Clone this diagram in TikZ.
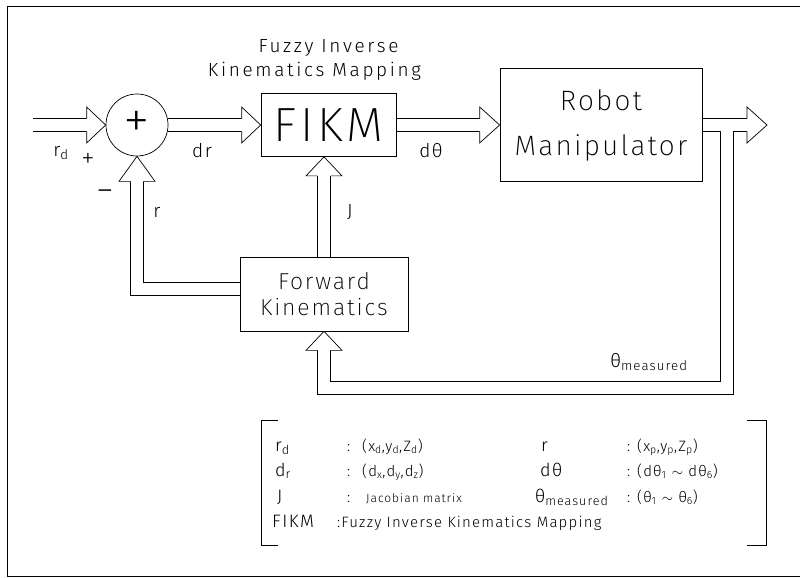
\documentclass[tikz,border=0pt]{standalone}
\usepackage{fontspec}
\setmainfont{Fira Sans Light}[LetterSpace=8]
\newfontfamily\thinfont{Fira Sans ExtraLight}[LetterSpace=8]
\usetikzlibrary{positioning,calc}

% open arrow head, tip at #2, turned by #3 degrees, length #1
\newcommand{\hollowhead}[3][19]{%
  \draw[headline,shift={(#2)},rotate=#3] (-#1,-6.5) -- (-#1,-18) -- (0,0) -- (-#1,18) -- (-#1,6.5);}
% two rails of a wide shaft
\newcommand{\hshaft}[2]{%
  \draw[rail] ([yshift=6.5pt]#1) -- ([yshift=6.5pt]#2);
  \draw[rail] ([yshift=-6.5pt]#1) -- ([yshift=-6.5pt]#2);}
\newcommand{\vshaft}[2]{%
  \draw[rail] ([xshift=6.5pt]#1) -- ([xshift=6.5pt]#2);
  \draw[rail] ([xshift=-6.5pt]#1) -- ([xshift=-6.5pt]#2);}

\begin{document}
\begin{tikzpicture}[x=1pt,y=-1pt,
 box/.style={draw,line width=.7pt,inner sep=0pt},
 rail/.style={line width=.7pt,line join=miter},
 headline/.style={line width=.7pt,fill=white,line join=miter},
 titletext/.style={inner sep=0pt,font=\fontsize{19}{21}\selectfont\addfontfeatures{LetterSpace=14}},
 lbl/.style={font=\fontsize{19}{21}\selectfont},
 keysym/.style={anchor=base west,inner sep=0pt,font=\fontsize{18}{20}\selectfont},
 keyval/.style={anchor=base west,inner sep=0pt,font=\fontsize{15}{17}\selectfont}]
\useasboundingbox (0,0) rectangle (803,578);
\draw[line width=.7pt] (800,6) -- (7,6) -- (7,576) -- (800,576);

% blocks
\node[box,circle,minimum size=62pt,font=\thinfont\fontsize{54}{54}\selectfont] (sum) at (137,125) {+};
\node[box,minimum width=135pt,minimum height=63pt,font=\thinfont\fontsize{48}{48}\selectfont] (fikm) at (328.5,125) {FIKM};
\node[box,minimum width=202pt,minimum height=113pt,align=center,font=\thinfont\fontsize{28}{33}\selectfont] (robot) at (601,125) {Robot\\[12pt]Manipulator};
\node[box,minimum width=168pt,minimum height=74pt,align=center,font=\thinfont\fontsize{23}{26}\selectfont] (fk) at (324,294) {Forward\\Kinematics};
\node[titletext,above=13pt of fikm,xshift=-14pt] (title2) {Kinematics Mapping};
\node[titletext,above=10pt of fikm.north,yshift=27pt] (title1) {Fuzzy Inverse};

% free ends, head bases and corners
\coordinate (in) at (33,125);
\coordinate (out) at (767,125);
\coordinate (ret) at (726.5,387.5);
\coordinate (jtip) at (fk.north |- fikm.south);
\coordinate (sumin) at ([xshift=-19pt]sum.west);
\coordinate (fikmin) at ([xshift=-19pt]fikm.west);
\coordinate (robotin) at ([xshift=-20pt]robot.west);
\coordinate (outbase) at ([xshift=-20pt]out);
\coordinate (sumbase) at ([yshift=-25pt]sum.south);
\coordinate (fkbase) at ([yshift=-19pt]fk.south);
\coordinate (jbase) at ([yshift=-19pt]jtip);
\coordinate (rstart) at ([yshift=5.5pt]fk.west);

% forward path
\hshaft{in}{sumin}
\hollowhead{sum.west}{0}
\hshaft{sum.east}{fikmin}
\hollowhead{fikm.west}{0}
\hshaft{fikm.east}{robotin}
\hollowhead[20]{robot.west}{0}
\draw[rail] ([yshift=6.5pt]robot.east) -- ([yshift=6.5pt]outbase);
\hollowhead[20]{out}{0}

% measured angles back to forward kinematics
\draw[rail] ([yshift=-6.5pt]robot.east) -| ([shift={(-6.5pt,6.5pt)}]ret) -| ([xshift=6.5pt]fkbase);
\draw[rail] ([yshift=-6.5pt]outbase) -| ([shift={(6.5pt,-6.5pt)}]ret) -| ([xshift=-6.5pt]fkbase);
\hollowhead{fk.south}{90}

% jacobian
\vshaft{fk.north}{jbase}
\hollowhead{jtip}{90}

% position feedback
\draw[rail] ([yshift=-6.5pt]rstart) -| ([xshift=-6.5pt]sumbase);
\draw[rail] ([yshift=6.5pt]rstart) -| ([xshift=6.5pt]sumbase);
\hollowhead[25]{sum.south}{90}

% signal labels
\node[lbl] (rdlabel) at (61,153) {r\textsubscript{d}};
\node[font=\thinfont\fontsize{28}{28}\selectfont] (plus) at (88,160) {+};
\node[font=\thinfont\fontsize{36}{36}\selectfont] (minus) at (105,196) {−};
\node[lbl] (drlabel) at (202,151) {dr};
\node[lbl] (rlabel) at (157,212) {r};
\node[lbl] (jlabel) at (350,212) {J};
\node[lbl] (dthlabel) at (431,151) {dθ};
\node[lbl] (thmlabel) at (649,362) {θ\textsubscript{measured}};

% legend
\draw[line width=.7pt] (278,420) -- (261,420) -- (261,545) -- (278,545);
\draw[line width=.7pt] (747,420) -- (766,420) -- (766,545) -- (747,545);
\node[keysym] (ks1) at (275,451) {r\textsubscript{d}};
\node[keysym] (ks2) at (275,476) {d\textsubscript{r}};
\node[keysym] (ks3) at (277,502) {J};
\node[keysym] (ks4) at (272,527) {FIKM};
\node[keyval] (kc1) at (347,451) {:};
\node[keyval] (kc2) at (347,476) {:};
\node[keyval] (kc3) at (347,502) {:};
\node[keyval] (kv1) at (362,451) {(x\textsubscript{d},y\textsubscript{d},Z\textsubscript{d})};
\node[keyval] (kv2) at (362,476) {(d\textsubscript{x},d\textsubscript{y},d\textsubscript{z})};
\node[keyval,font=\fontsize{12}{14}\selectfont] (kv3) at (366,502) {Jacobian matrix};
\node[keyval] (kv4) at (337,527) {:Fuzzy Inverse Kinematics Mapping};
\node[keysym] (ks5) at (541,451) {r};
\node[keysym] (ks6) at (540,476) {dθ};
\node[keysym] (ks7) at (535,502) {θ\textsubscript{measured}};
\node[keyval] (kc5) at (627,451) {:};
\node[keyval] (kc6) at (627,476) {:};
\node[keyval] (kc7) at (627,502) {:};
\node[keyval] (kv5) at (637,451) {(x\textsubscript{p},y\textsubscript{p},Z\textsubscript{p})};
\node[keyval] (kv6) at (637,476) {(dθ\textsubscript{1} $\sim$ dθ\textsubscript{6})};
\node[keyval] (kv7) at (637,502) {(θ\textsubscript{1} $\sim$ θ\textsubscript{6})};
\end{tikzpicture}
\end{document}
